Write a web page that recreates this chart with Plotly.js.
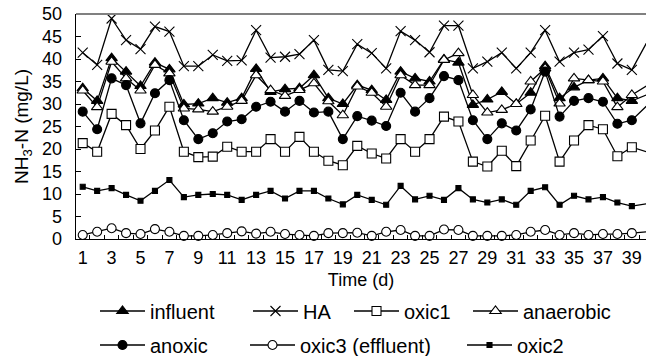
<!DOCTYPE html>
<html><head><meta charset="utf-8">
<script src="https://cdn.plot.ly/plotly-3.0.1.min.js"></script>
<style>html,body{margin:0;padding:0;background:#fff;overflow:hidden}#chart{width:646px;height:356px}</style>
</head><body><div id="chart"></div>
<script>
const days = Array.from({length: 40}, (_, i) => i + 1);
const influent = [33.5,30.7,40.2,37.2,34.0,39.2,37.7,29.9,30.1,31.3,30.3,31.3,37.8,32.7,33.3,33.5,36.4,31.3,30.0,34.2,33.1,30.9,37.2,35.7,35.0,39.9,39.2,29.8,31.0,32.7,30.0,32.5,38.4,31.3,33.7,35.3,35.7,31.3,30.7,32.0];
const HA = [41.4,38.7,49.0,44.2,42.2,47.2,46.1,38.4,38.4,40.9,39.6,39.7,46.4,40.3,40.5,41.1,44.2,37.6,37.3,43.3,41.3,37.9,46.2,44.2,41.5,47.4,47.4,37.9,39.4,41.4,37.9,41.4,46.4,39.4,41.4,42.1,45.1,39.0,37.6,43.5];
const oxic1 = [21.3,19.4,27.8,25.3,20.0,24.1,29.4,19.4,18.2,18.3,20.5,19.4,19.4,22.2,19.4,22.7,19.4,17.4,16.4,20.7,19.0,17.9,22.2,19.4,22.2,27.2,26.1,17.2,16.1,19.6,16.2,21.9,27.4,17.2,21.9,25.3,24.4,18.4,20.4,19.4];
const anaerobic = [33.0,29.3,39.4,35.7,33.0,38.7,36.8,29.0,28.8,28.3,29.4,30.7,36.4,33.1,31.8,33.1,34.6,30.6,27.5,33.9,32.5,29.4,36.4,34.2,34.2,39.8,41.3,32.0,28.1,28.7,30.0,35.0,37.9,30.1,35.7,35.3,35.0,29.3,32.0,34.0];
const anoxic = [28.3,24.4,35.7,34.2,25.7,32.4,35.3,26.4,22.2,23.5,26.1,26.6,29.4,30.5,28.3,30.7,28.1,28.3,22.2,27.3,26.3,25.1,32.5,28.3,31.3,36.2,35.3,26.4,22.2,25.7,24.1,28.8,37.2,27.2,30.7,31.3,30.5,25.6,26.4,29.5];
const oxic3 = [0.9,1.6,2.4,1.3,1.1,2.2,1.6,0.7,0.7,0.9,1.3,1.7,1.2,1.6,1.1,0.9,0.7,1.3,1.3,1.4,0.7,1.6,2.0,0.7,0.7,2.1,2.0,0.7,0.7,0.7,0.9,1.6,2.0,0.9,1.3,0.9,1.1,1.1,1.3,1.6];
const oxic2 = [11.6,10.7,11.3,9.8,8.5,10.7,13.1,9.3,9.8,10.0,9.8,8.7,9.8,10.7,9.0,10.7,10.7,9.0,7.7,9.8,8.7,7.6,11.8,8.8,9.6,8.7,11.3,8.8,8.1,8.8,7.6,10.7,11.5,7.6,9.6,8.8,9.3,8.1,7.3,7.8];
const xTicks = [1,3,5,7,9,11,13,15,17,19,21,23,25,27,29,31,33,35,37,39];

const black = '#000';
function tr(name, y, symbol, size, fill, legend) {
  return {
    x: days, y: y, name: name, type: 'scatter', mode: 'lines+markers',
    legend: legend, cliponaxis: false,
    line: {color: black, width: 1.3},
    marker: {symbol: symbol, size: size, color: fill,
             line: {color: black, width: 1.1}}
  };
}
const data = [
  tr('influent', influent, 'triangle-up', 10, black, 'legend'),
  tr('HA', HA, 'x-thin-open', 10, black, 'legend2'),
  tr('oxic1', oxic1, 'square', 9, '#fff', 'legend3'),
  tr('anaerobic', anaerobic, 'triangle-up', 10, '#fff', 'legend4'),
  tr('anoxic', anoxic, 'circle', 9, black, 'legend5'),
  tr('oxic3 (effluent)', oxic3, 'circle', 9, '#fff', 'legend6'),
  tr('oxic2', oxic2, 'square', 5, black, 'legend7')
];
const font = {family: '"Liberation Sans", Arial, sans-serif', color: black};
function lg(textX, rowY) {
  return {
    orientation: 'h', xref: 'container', yref: 'container',
    x: (textX - 55) / 646, xanchor: 'left',
    y: 1 - rowY / 356, yanchor: 'middle',
    font: Object.assign({size: 20}, font), bgcolor: 'rgba(0,0,0,0)',
    borderwidth: 0, itemwidth: 45
  };
}
const layout = {
  width: 646, height: 356,
  margin: {l: 76, r: 0, t: 14, b: 117},
  paper_bgcolor: '#fff', plot_bgcolor: '#fff',
  font: Object.assign({size: 18}, font),
  showlegend: true,
  xaxis: {
    range: [0.536, 39.98], tickmode: 'array', tickvals: xTicks,
    ticks: '', showgrid: false, zeroline: false,
    showline: true, linecolor: black, linewidth: 1.3,
    tickfont: Object.assign({size: 18}, font), ticklabelstandoff: 2,
    minor: {tickmode: 'linear', tick0: 0.5, dtick: 1, ticks: 'inside', ticklen: 4, tickcolor: black, showgrid: false},
    title: {text: 'Time (d)', font: Object.assign({size: 18}, font), standoff: 6},
    automargin: false
  },
  yaxis: {
    range: [0, 50], tickmode: 'linear', tick0: 0, dtick: 5,
    ticks: 'inside', ticklen: 5, tickcolor: black,
    showgrid: false, zeroline: false,
    showline: true, linecolor: black, linewidth: 1.3,
    tickfont: Object.assign({size: 18}, font), ticklabelstandoff: 9,
    title: {text: 'NH<sub>3</sub>-N (mg/L)', font: Object.assign({size: 19}, font), standoff: 8},
    automargin: false
  },
  legend: lg(150, 311),
  legend2: lg(303, 311),
  legend3: lg(404, 311),
  legend4: lg(523, 311),
  legend5: lg(150, 345),
  legend6: lg(300, 345),
  legend7: lg(517, 345),
  shapes: [{type: 'line', xref: 'paper', yref: 'paper', x0: 0, x1: 1, y0: 1, y1: 1,
            line: {color: '#808080', width: 2}}]
};
Plotly.newPlot('chart', data, layout, {displayModeBar: false, staticPlot: true});
</script>
</body></html>
